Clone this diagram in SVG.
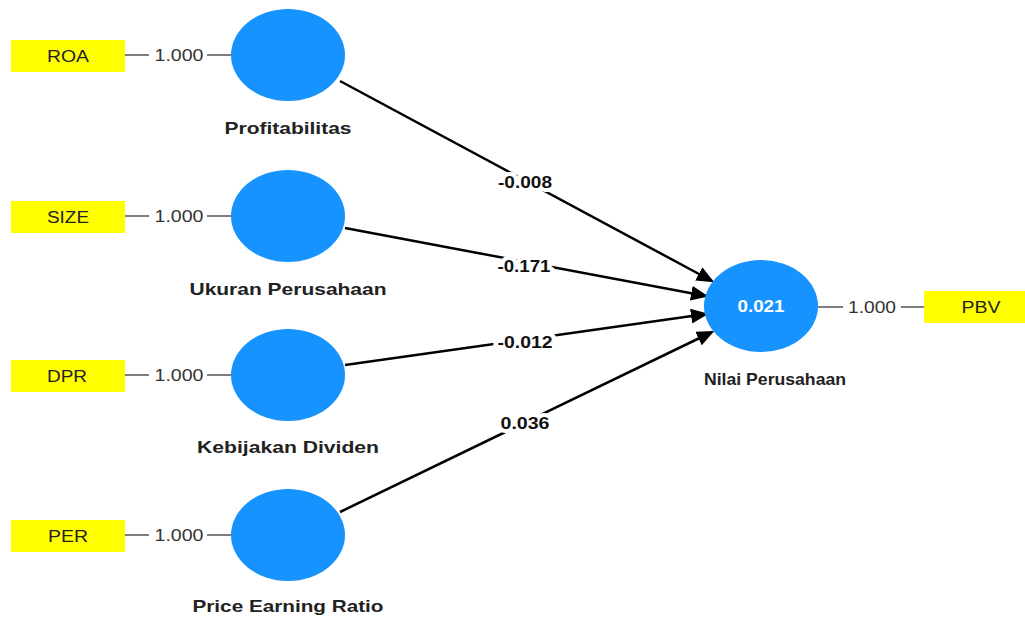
<svg xmlns="http://www.w3.org/2000/svg" width="1025" height="617" viewBox="0 0 1025 617">
<style>
text{font-family:"Liberation Sans",Arial,sans-serif;text-anchor:middle}
.ind{fill:#ffff00}
.indt{font-size:16px;fill:#222}
.lv{fill:#1793ff}
.lvt{font-size:16.5px;font-weight:bold;fill:#222}
.ld{font-size:16px;fill:#333}
.ll{stroke:#555;stroke-width:1.5}
.path{stroke:#000;stroke-width:2.5;fill:none;marker-end:url(#ah)}
.pl{font-size:16px;font-weight:bold;fill:#111;stroke:#fff;stroke-width:8;paint-order:stroke;stroke-linejoin:round}
</style>
<defs>
<marker id="ah" markerWidth="7" markerHeight="6" refX="6" refY="3" orient="auto" markerUnits="strokeWidth"><path d="M0,0 L7,3 L0,6 z" fill="#000"/></marker>
</defs>
<rect width="1025" height="617" fill="#fff"/>
<g id="connectors">
<line class="ll" x1="125" y1="55" x2="232" y2="55"/>
<line class="ll" x1="125" y1="216" x2="232" y2="216"/>
<line class="ll" x1="125" y1="375" x2="232" y2="375"/>
<line class="ll" x1="125" y1="535" x2="232" y2="535"/>
<line class="ll" x1="818" y1="307" x2="924" y2="307"/>
<rect x="149" y="45" width="58" height="20" fill="#fff"/>
<rect x="149" y="206" width="58" height="20" fill="#fff"/>
<rect x="149" y="365" width="58" height="20" fill="#fff"/>
<rect x="149" y="525" width="58" height="20" fill="#fff"/>
<rect x="843" y="297" width="58" height="20" fill="#fff"/>
<text class="ld" x="179" y="61" textLength="49" lengthAdjust="spacingAndGlyphs">1.000</text>
<text class="ld" x="179" y="222" textLength="49" lengthAdjust="spacingAndGlyphs">1.000</text>
<text class="ld" x="179" y="381" textLength="49" lengthAdjust="spacingAndGlyphs">1.000</text>
<text class="ld" x="179" y="541" textLength="49" lengthAdjust="spacingAndGlyphs">1.000</text>
<text class="ld" x="872" y="313" textLength="48" lengthAdjust="spacingAndGlyphs">1.000</text>
<line class="path" x1="340" y1="81" x2="712" y2="281"/>
<line class="path" x1="345" y1="228" x2="706" y2="296"/>
<line class="path" x1="345" y1="365" x2="706" y2="314"/>
<line class="path" x1="340" y1="512" x2="712" y2="332"/>
<text class="pl" x="525" y="188" textLength="54" lengthAdjust="spacingAndGlyphs">-0.008</text>
<text class="pl" x="524" y="272" textLength="53" lengthAdjust="spacingAndGlyphs">-0.171</text>
<text class="pl" x="525" y="348" textLength="55" lengthAdjust="spacingAndGlyphs">-0.012</text>
<text class="pl" x="525" y="429" textLength="49" lengthAdjust="spacingAndGlyphs">0.036</text>
</g>
<g id="ROA"><rect class="ind" x="11" y="40" width="114" height="32"/><text class="indt" x="68" y="62" textLength="42" lengthAdjust="spacingAndGlyphs">ROA</text></g>
<g id="SIZE"><rect class="ind" x="11" y="201" width="114" height="32"/><text class="indt" x="68" y="223" textLength="42" lengthAdjust="spacingAndGlyphs">SIZE</text></g>
<g id="DPR"><rect class="ind" x="11" y="360" width="114" height="32"/><text class="indt" x="67" y="382" textLength="40" lengthAdjust="spacingAndGlyphs">DPR</text></g>
<g id="PER"><rect class="ind" x="11" y="520" width="114" height="32"/><text class="indt" x="68" y="542" textLength="40" lengthAdjust="spacingAndGlyphs">PER</text></g>
<g id="PBV"><rect class="ind" x="924" y="291" width="101" height="32"/><text class="indt" x="981" y="313" textLength="39" lengthAdjust="spacingAndGlyphs">PBV</text></g>
<g id="Profitabilitas"><ellipse class="lv" cx="288" cy="55" rx="57" ry="46"/><text class="lvt" x="288" y="134" textLength="127" lengthAdjust="spacingAndGlyphs">Profitabilitas</text></g>
<g id="UkuranPerusahaan"><ellipse class="lv" cx="288" cy="216" rx="57" ry="46"/><text class="lvt" x="288" y="295" textLength="197" lengthAdjust="spacingAndGlyphs">Ukuran Perusahaan</text></g>
<g id="KebijakanDividen"><ellipse class="lv" cx="288" cy="375" rx="57" ry="46"/><text class="lvt" x="288" y="453" textLength="182" lengthAdjust="spacingAndGlyphs">Kebijakan Dividen</text></g>
<g id="PriceEarningRatio"><ellipse class="lv" cx="288" cy="535" rx="57" ry="46"/><text class="lvt" x="288" y="612" textLength="191" lengthAdjust="spacingAndGlyphs">Price Earning Ratio</text></g>
<g id="NilaiPerusahaan"><ellipse class="lv" cx="761" cy="306" rx="57" ry="46"/><text class="lvt" x="761" y="312" textLength="47" lengthAdjust="spacingAndGlyphs" style="fill:#fff">0.021</text><text class="lvt" x="775" y="385" textLength="142" lengthAdjust="spacingAndGlyphs">Nilai Perusahaan</text></g>
</svg>
